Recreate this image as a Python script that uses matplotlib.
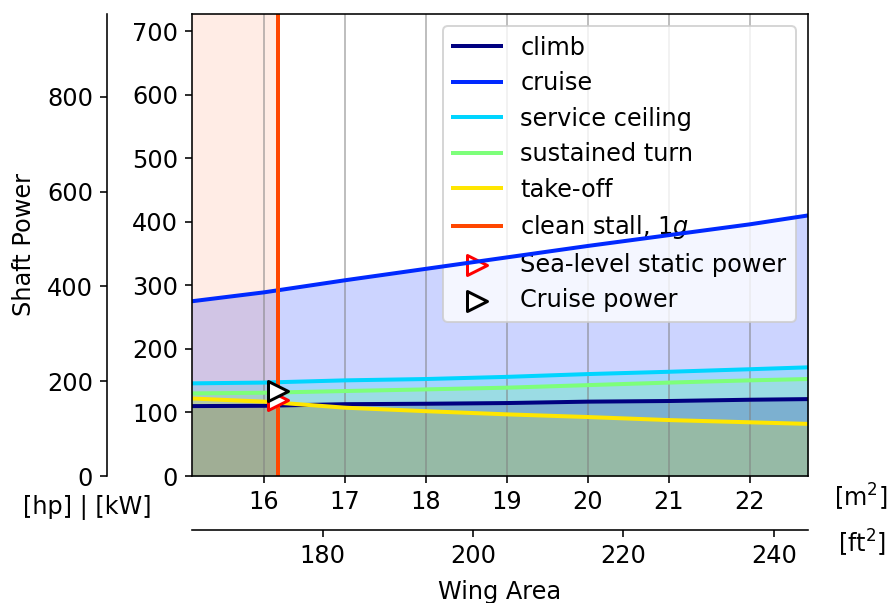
import numpy as np
import matplotlib
matplotlib.use('Agg')
import matplotlib.pyplot as plt

# ---- data ----
wing_area_m2 = [15.11, 16, 17, 18, 19, 20, 21, 22, 22.72]
climb_kw = [110, 110.5, 113, 113.7, 114.8, 117, 118, 120, 121]
cruise_kw = [275, 289, 308, 326, 344, 362, 379, 396, 410]
ceiling_kw = [145.8, 147, 150.5, 152.6, 156, 160.4, 164, 168, 171]
turn_kw = [130, 131, 133.7, 136.3, 139, 143, 147, 150.5, 152.6]
takeoff_kw = [122, 117, 107.5, 102, 97, 92.8, 88, 84.5, 82]
stall_area_m2 = 16.17
static_power_kw = 119.3
cruise_power_kw = 134.2

labels = ['climb', 'cruise', 'service ceiling', 'sustained turn', 'take-off',
          'clean stall, 1$g$']
kw_ticks = [0, 100, 200, 300, 400, 500, 600, 700]
hp_ticks = [0, 200, 400, 600, 800]
m2_ticks = [16, 17, 18, 19, 20, 21, 22]
ft2_ticks = [180, 200, 220, 240]

KW_PER_HP = 0.7457
FT2_PER_M2 = 10.7639
xlim = (15.11, 22.72)
ylim_kw = (0, 727)

plt.rcParams['font.size'] = 12
plt.rcParams['font.family'] = ['DejaVu Sans']

fig = plt.figure(figsize=(890 / 144, 603 / 144), dpi=144)
ax = fig.add_axes([192 / 890, 1 - 476 / 603, (808 - 192) / 890, (476 - 14) / 603])

colors = plt.cm.jet(np.arange(6) / 6)
x = np.array(wing_area_m2)
series = [climb_kw, cruise_kw, ceiling_kw, turn_kw, takeoff_kw]
order = [1, 2, 3, 0, 4]  # fill drawing order
for i in order:
    ax.fill_between(x, 0, series[i], color=colors[i], alpha=0.2, lw=0)
ax.axvspan(xlim[0], stall_area_m2, color=colors[5], alpha=0.1, lw=0)

for i in range(5):
    ax.plot(x, series[i], color=colors[i], lw=2, label=labels[i])
ax.axvline(stall_area_m2, color=colors[5], lw=2, label=labels[5])

ax.scatter([stall_area_m2], [static_power_kw], marker='>', facecolor='white',
           edgecolor='red', s=100, linewidths=1.5, label='Sea-level static power', zorder=3)
ax.scatter([stall_area_m2], [cruise_power_kw], marker='>', facecolor='white',
           edgecolor='black', s=100, linewidths=1.5, label='Cruise power', zorder=3)

ax.set_xlim(*xlim)
ax.set_ylim(*ylim_kw)
ax.set_xticks(m2_ticks)
ax.set_yticks(kw_ticks)
ax.grid(axis='x', color='gray', alpha=0.5, lw=1)
leg = ax.legend(loc='upper right', labelspacing=0.48)
leg.set_zorder(1.8)

# hp axis
ax_hp = ax.twinx()
ax_hp.set_ylim(ylim_kw[0] / KW_PER_HP, ylim_kw[1] / KW_PER_HP)
ax_hp.spines['left'].set_position(('axes', (107 - 192) / 616))
ax_hp.spines['left'].set_visible(True)
for s in ['right', 'top', 'bottom']:
    ax_hp.spines[s].set_visible(False)
ax_hp.yaxis.set_ticks_position('left')
ax_hp.yaxis.set_label_position('left')
ax_hp.set_yticks(hp_ticks)
ax_hp.set_ylabel('Shaft Power', labelpad=5.5)

# ft2 axis
sec = ax.secondary_xaxis(-(530 - 476) / 462,
                         functions=(lambda v: v * FT2_PER_M2, lambda v: v / FT2_PER_M2))
sec.set_xticks(ft2_ticks)
sec.set_xlabel('Wing Area', labelpad=6)

fig.text(87 / 890, 1 - 507 / 603, '[hp] | [kW]', ha='center', va='center')
fig.text(861 / 890, 1 - 497 / 603, '[m$^2$]', ha='center', va='center')
fig.text(862 / 890, 1 - 543 / 603, '[ft$^2$]', ha='center', va='center')

fig.savefig('out.png', dpi=144)
